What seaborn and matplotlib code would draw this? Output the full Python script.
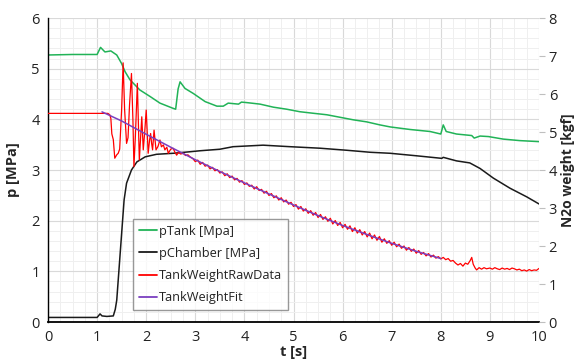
import matplotlib
matplotlib.use("Agg")
import matplotlib.pyplot as plt
import seaborn as sns
from matplotlib.ticker import MultipleLocator
from matplotlib.lines import Line2D

# Tank pressure [MPa]
t_tank = [0.0, 0.5, 1.0, 1.07, 1.16, 1.28, 1.40, 1.50, 1.57, 1.67, 1.87, 2.08, 2.28, 2.54, 2.60,
          2.65, 2.69, 2.79, 2.96, 3.20, 3.44, 3.57, 3.67, 3.88, 3.94, 4.05, 4.32, 4.59, 4.86, 5.13,
          5.40, 5.68, 5.95, 6.22, 6.49, 6.76, 6.97, 7.37, 7.78, 8.00, 8.05, 8.11, 8.32, 8.63, 8.68,
          8.80, 8.97, 9.27, 9.61, 10.0]
p_tank = [5.27, 5.28, 5.28, 5.42, 5.33, 5.35, 5.27, 5.10, 4.94, 4.78, 4.58, 4.45, 4.32, 4.22, 4.20,
          4.60, 4.74, 4.61, 4.51, 4.35, 4.26, 4.26, 4.32, 4.30, 4.34, 4.33, 4.30, 4.24, 4.20, 4.15,
          4.12, 4.09, 4.04, 3.99, 3.95, 3.89, 3.85, 3.80, 3.76, 3.71, 3.89, 3.76, 3.71, 3.68, 3.63,
          3.67, 3.66, 3.61, 3.58, 3.56]

# Chamber pressure [MPa]
t_chamber = [0.0, 1.0, 1.06, 1.10, 1.20, 1.33, 1.37, 1.40, 1.45, 1.50, 1.55, 1.60, 1.70, 1.81, 1.98,
             2.21, 2.55, 2.89, 3.10, 3.50, 3.77, 4.38, 4.93, 5.54, 6.08, 6.56, 6.97, 7.51, 8.02, 8.05,
             8.32, 8.59, 8.80, 9.07, 9.41, 9.75, 10.0]
p_chamber = [0.09, 0.09, 0.16, 0.12, 0.11, 0.12, 0.25, 0.43, 1.09, 1.75, 2.41, 2.74, 3.00, 3.16, 3.26,
             3.31, 3.33, 3.36, 3.38, 3.41, 3.46, 3.49, 3.46, 3.43, 3.39, 3.35, 3.33, 3.28, 3.23, 3.25,
             3.18, 3.14, 3.03, 2.84, 2.64, 2.47, 2.33]

# Tank weight raw data [kgf]
t_raw = [0.0, 0.5, 1.0, 1.22, 1.26, 1.28, 1.30, 1.33, 1.36, 1.40, 1.43, 1.46, 1.50, 1.53, 1.56,
         1.60, 1.63, 1.66, 1.70, 1.73, 1.75, 1.78, 1.82, 1.84, 1.86, 1.88, 1.91, 1.94, 1.97, 2.00,
         2.04, 2.07, 2.09, 2.11, 2.13, 2.16, 2.20, 2.24, 2.28, 2.31, 2.35, 2.38, 2.42, 2.45, 2.50,
         2.55, 2.58, 2.62, 2.66, 2.70, 2.76, 2.80, 2.85, 2.89, 2.95,
         3.00, 3.05, 3.10, 3.15, 3.20, 3.25, 3.30, 3.35, 3.40, 3.45, 3.50, 3.55, 3.60, 3.65, 3.70,
         3.75, 3.80, 3.85, 3.90, 3.95, 4.00, 4.05, 4.10, 4.15, 4.20, 4.25, 4.30, 4.35, 4.40, 4.45,
         4.50, 4.55, 4.60, 4.65, 4.70, 4.75, 4.80, 4.85, 4.90, 4.95, 5.00, 5.05, 5.10, 5.15, 5.20,
         5.25, 5.30, 5.35, 5.40, 5.45, 5.50, 5.55, 5.60, 5.65, 5.70, 5.75, 5.80, 5.85, 5.90, 5.95,
         6.00, 6.05, 6.10, 6.15, 6.20, 6.25, 6.30, 6.35, 6.40, 6.45, 6.50, 6.55, 6.60, 6.65, 6.70,
         6.75, 6.80, 6.85, 6.90, 6.95, 7.00, 7.05, 7.10, 7.15, 7.20, 7.25, 7.30, 7.35, 7.40, 7.45,
         7.50, 7.55, 7.60, 7.65, 7.70, 7.75, 7.80, 7.85, 7.90, 7.95, 8.00,
         8.05, 8.10, 8.15, 8.20, 8.25, 8.30, 8.35, 8.40, 8.45, 8.50, 8.55, 8.60, 8.63, 8.66, 8.70,
         8.73, 8.78, 8.83, 8.88, 8.93, 9.00, 9.05, 9.10, 9.15, 9.20, 9.25, 9.30, 9.35, 9.40, 9.45,
         9.50, 9.55, 9.60, 9.65, 9.70, 9.75, 9.80, 9.85, 9.90, 9.95, 10.0]
w_raw = [5.49, 5.49, 5.49, 5.49, 5.45, 5.36, 4.95, 4.80, 4.31, 4.40, 4.44, 4.55, 5.60, 6.82, 5.60,
         4.70, 4.85, 5.70, 6.54, 5.30, 4.09, 4.90, 6.28, 5.30, 4.26, 4.70, 5.40, 4.53, 5.00, 5.58,
         4.44, 4.80, 4.96, 4.70, 4.53, 5.05, 4.53, 4.62, 4.79, 4.61, 4.66, 4.53, 4.60, 4.44, 4.55,
         4.57, 4.48, 4.39, 4.47, 4.42, 4.44, 4.38, 4.40, 4.35, 4.30,
         4.22, 4.26, 4.15, 4.20, 4.10, 4.13, 4.03, 4.07, 3.98, 4.01, 3.92, 3.95, 3.85, 3.90, 3.80,
         3.84, 3.74, 3.78, 3.68, 3.72, 3.62, 3.66, 3.57, 3.60, 3.50, 3.56, 3.46, 3.49, 3.39, 3.44,
         3.33, 3.38, 3.27, 3.32, 3.21, 3.27, 3.16, 3.21, 3.10, 3.15, 3.04, 3.09, 2.97, 3.04, 2.92,
         2.98, 2.86, 2.93, 2.81, 2.88, 2.75, 2.83, 2.70, 2.77, 2.65, 2.73, 2.58, 2.67, 2.54, 2.62,
         2.48, 2.57, 2.44, 2.53, 2.38, 2.48, 2.34, 2.43, 2.29, 2.38, 2.24, 2.34, 2.19, 2.29, 2.15,
         2.25, 2.10, 2.19, 2.07, 2.14, 2.02, 2.10, 1.98, 2.05, 1.94, 2.00, 1.89, 1.96, 1.86, 1.92,
         1.81, 1.88, 1.78, 1.83, 1.74, 1.80, 1.71, 1.76, 1.68, 1.72, 1.66,
         1.70, 1.64, 1.67, 1.60, 1.62, 1.55, 1.50, 1.54, 1.47, 1.55, 1.52, 1.62, 1.70, 1.52, 1.42,
         1.37, 1.43, 1.39, 1.43, 1.40, 1.42, 1.39, 1.43, 1.40, 1.38, 1.42, 1.39, 1.41, 1.38, 1.42,
         1.40, 1.37, 1.39, 1.35, 1.37, 1.34, 1.38, 1.35, 1.37, 1.36, 1.41]

# Tank weight fit [kgf]
t_fit = [1.10, 1.5, 2.0, 2.5, 3.0, 3.5, 4.0, 4.5, 5.0, 5.5, 6.0, 6.5, 7.0, 7.5, 8.0]
w_fit = [5.53, 5.29, 4.94, 4.60, 4.27, 3.96, 3.66, 3.37, 3.08, 2.80, 2.54, 2.30, 2.07, 1.86, 1.67]

labels = ["pTank [Mpa]", "pChamber [MPa]", "TankWeightRawData", "TankWeightFit"]
colors = ["#21b357", "#1a1a1a", "#ff0000", "#7a3fbf"]

sns.set_style("white")
plt.rcParams["font.family"] = ["Open Sans", "DejaVu Sans"]

fig = plt.figure(figsize=(5.8, 3.6), dpi=100)
ax = fig.add_axes([48 / 580, 1 - 322 / 360, 491 / 580, 304 / 360])
ax2 = ax.twinx()

sns.lineplot(x=t_tank, y=p_tank, ax=ax, color=colors[0], lw=1.1, estimator=None, sort=False)
sns.lineplot(x=t_chamber, y=p_chamber, ax=ax, color=colors[1], lw=1.1, estimator=None, sort=False)
sns.lineplot(x=t_raw, y=w_raw, ax=ax2, color=colors[2], lw=0.9, estimator=None, sort=False)
sns.lineplot(x=t_fit, y=w_fit, ax=ax2, color=colors[3], lw=1.1, estimator=None, sort=False)

ax.set_xlim(0, 10)
ax.set_ylim(0, 6)
ax2.set_ylim(0, 8)
ax.xaxis.set_major_locator(MultipleLocator(1))
ax.xaxis.set_minor_locator(MultipleLocator(0.25))
ax.yaxis.set_major_locator(MultipleLocator(1))
ax.yaxis.set_minor_locator(MultipleLocator(0.2))
ax2.yaxis.set_major_locator(MultipleLocator(1))

ax.grid(which="major", color="#d9d9d9", lw=0.8)
ax.grid(which="minor", color="#efefef", lw=0.7)
ax.set_axisbelow(True)
ax2.grid(False)

for a in (ax, ax2):
    for s in a.spines.values():
        s.set_visible(False)
ax.spines["left"].set_visible(True)
ax.spines["bottom"].set_visible(True)
ax.spines["left"].set_color("black")
ax.spines["bottom"].set_color("black")
ax.spines["left"].set_linewidth(1.0)
ax.spines["bottom"].set_linewidth(1.3)

ax.tick_params(which="both", length=0, labelsize=10.5, pad=6, colors="#222222")
ax2.tick_params(which="both", length=4, width=0.8, color="#bfbfbf", labelsize=10.5,
                labelcolor="#222222", pad=3)

ax.set_xlabel("t [s]", fontsize=10.5, fontweight="bold", labelpad=0)
ax.set_ylabel("p [MPa]", fontsize=10.5, fontweight="bold", labelpad=8)
ax2.set_ylabel("N2o weight [kgf]", fontsize=10, fontweight="bold", labelpad=3)

handles = [Line2D([], [], color=c, lw=1.3) for c in colors]
leg = ax2.legend(handles, labels, loc="upper left", bbox_to_anchor=(0.173, 0.339),
                 fontsize=9.2, frameon=True, fancybox=False, edgecolor="#7f7f7f",
                 handlelength=1.4, handletextpad=0.2, labelspacing=0.72, borderpad=0.45,
                 borderaxespad=0)
leg.get_frame().set_linewidth(1.0)
for txt in leg.get_texts():
    txt.set_color("#222222")

fig.savefig("out.png", dpi=100)
